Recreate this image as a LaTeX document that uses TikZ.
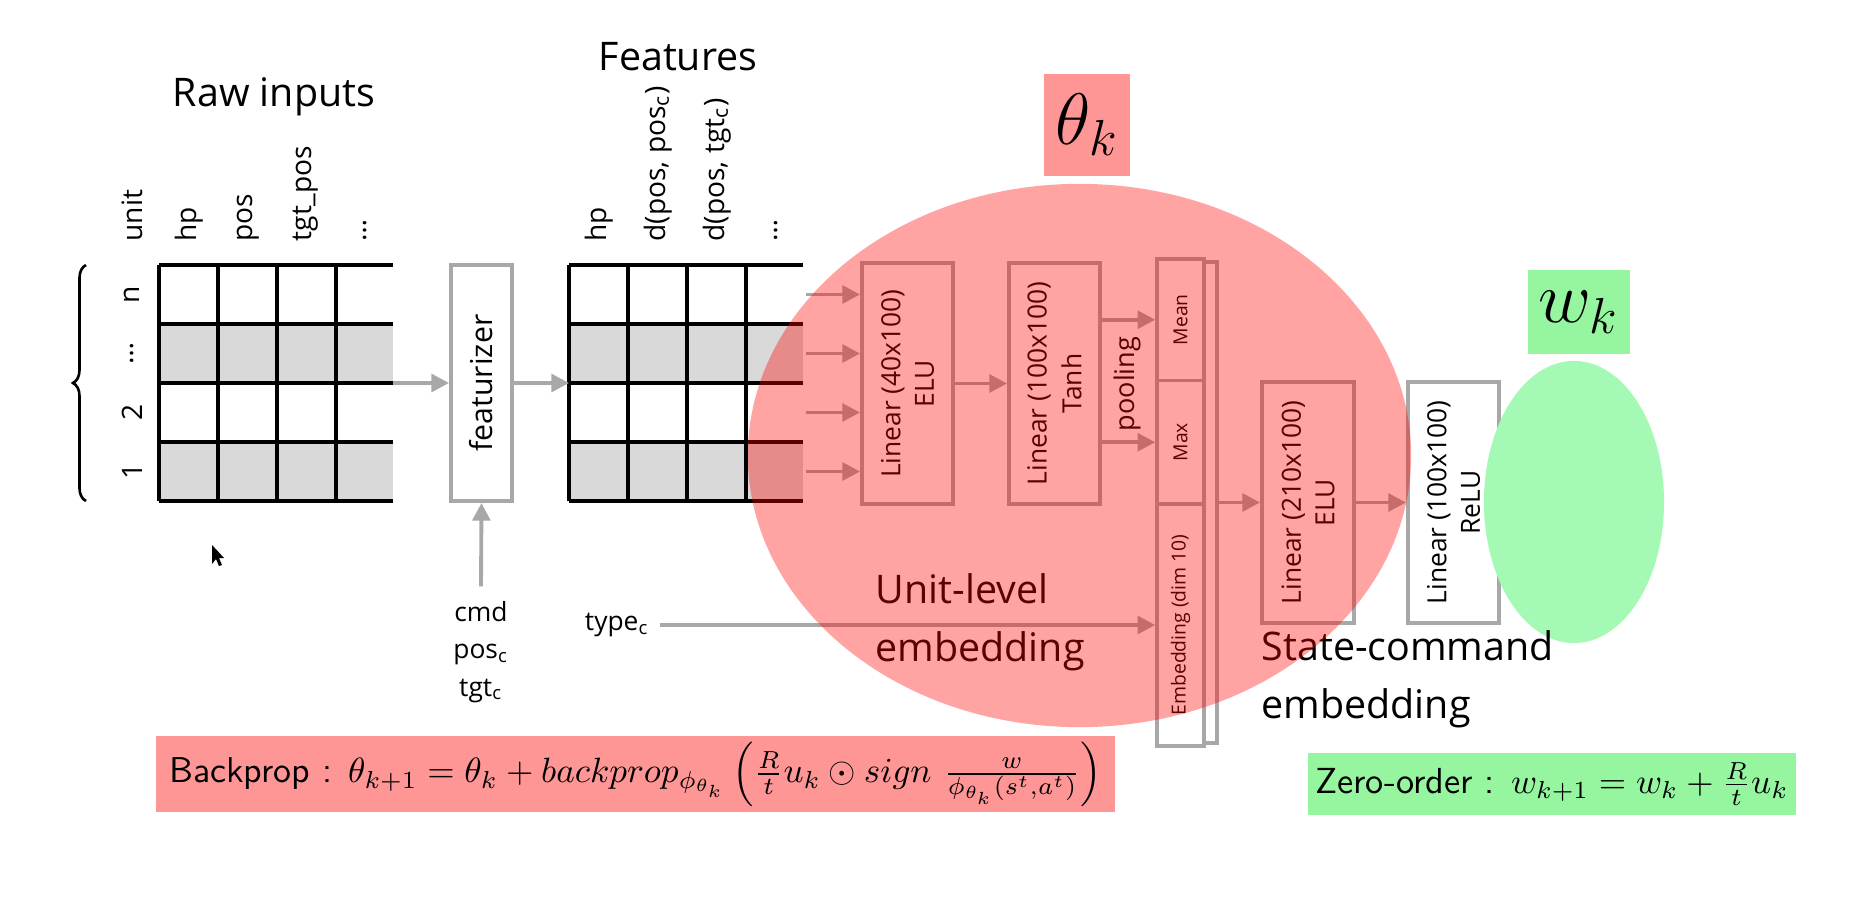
\documentclass[tikz,border=0pt]{standalone}
\usepackage{amsmath}
\usepackage{amssymb}
\usepackage{fontspec}
\newfontfamily\osans{Open Sans}
\usepackage{tikz}
\usetikzlibrary{positioning,calc}
\usetikzlibrary{arrows.meta,decorations.pathreplacing}
\definecolor{boxred}{RGB}{255,150,150}
\definecolor{boxgreen}{RGB}{150,246,160}
\definecolor{ellgreen}{RGB}{164,250,180}
\definecolor{linegrey}{RGB}{168,168,168}
\definecolor{cellgrey}{RGB}{217,217,217}
\tikzset{
	arr/.style={linegrey, line width=1.1pt, -{Triangle[length=5pt,width=5pt]}},
	gridline/.style={black, line width=1.05pt},
	collbl/.style={rotate=90, anchor=west, inner sep=0pt, font=\osans\fontsize{8}{9}\selectfont},
	rowlbl/.style={rotate=90, inner sep=0pt, font=\osans\fontsize{8}{9}\selectfont},
	layer/.style={draw=linegrey, line width=1.1pt, fill=white, inner sep=0pt, minimum width=0.91cm, minimum height=2.41cm, font=\osans\fontsize{7.5}{9}\selectfont},
	cellbox/.style={draw=linegrey, line width=1pt, fill=white, inner sep=0pt, minimum width=0.47cm, font=\osans\fontsize{5.5}{6.5}\selectfont},
	bigtxt/.style={inner sep=0pt, font=\osans\fontsize{11.2}{16.5}\selectfont},
	smalltxt/.style={inner sep=1pt, font=\osans\fontsize{7.5}{10.7}\selectfont}
}

\begin{document}
\begin{tikzpicture}[x=0.01cm,y=-0.01cm]
\fill[white] (0,0) rectangle (1850,900);
\useasboundingbox (0,0) rectangle (1850,900);

%Grilles (entrees brutes et features)
\foreach \gx in {159,569}{
	\fill[cellgrey] (\gx,324) rectangle (\gx+234,383);
	\fill[cellgrey] (\gx,442) rectangle (\gx+234,501);
	\foreach \r in {0,...,4} \draw[gridline] (\gx,265+59*\r) -- (\gx+234,265+59*\r);
	\foreach \c in {0,...,3} \draw[gridline] (\gx+59*\c,265) -- (\gx+59*\c,501);
}

%Etiquettes des colonnes
\foreach \xx/\txt in {132/unit,189/hp,248/pos,306/tgt\_pos,365/…}
	\node[collbl] at (\xx,242) {\txt};
\foreach \xx/\txt in {599/hp,658/{d(pos, pos\textsubscript{c})},717/{d(pos, tgt\textsubscript{c})},776/…}
	\node[collbl] at (\xx,242) {\txt};

%Etiquettes des lignes
\foreach \yy/\txt in {294.5/n,353.5/…,412.5/2,471.5/1}
	\node[rowlbl] at (132,\yy) {\txt};
\draw[decorate,decoration={brace,amplitude=0.13cm},line width=0.75pt] (86,501) -- (86,265);

\node[bigtxt] (rawtitle) at (274,97) {Raw inputs};
\node[bigtxt] (feattitle) at (678,57) {Features};

%Featurizer
\node[layer,minimum width=0.61cm,minimum height=2.36cm,font=\osans\fontsize{8.6}{10}\selectfont] (fz) at (481.5,383) {\rotatebox{90}{featurizer}};
\coordinate (rawout) at (393,383);
\coordinate (featin) at (569,383);
\draw[arr] (rawout) -- (fz.west);
\draw[arr] (fz.east) -- (featin);
\node[smalltxt,align=center] (cmd) at (481,652) {cmd\\pos\textsubscript{c}\\tgt\textsubscript{c}};
\draw[arr] ([yshift=3pt]cmd.north) -- (fz.south);
\node[smalltxt] (typec) at (617,625) {type\textsubscript{c}};

%Reseau
\node[layer] (lin1) at (907.5,383.5) {\rotatebox{90}{\shortstack{Linear (40x100)\\ELU}}};
\node[layer] (lin2) at (1054.5,383.5) {\rotatebox{90}{\shortstack{Linear (100x100)\\Tanh}}};
\node[cellbox,minimum width=0.51cm,minimum height=4.81cm] (colback) at (1191.5,502.5) {};
\node[cellbox,minimum height=1.215cm] (poolmean) at (1180.5,319.75) {\rotatebox{90}{Mean}};
\node[cellbox,minimum height=1.235cm] (poolmax) at (1180.5,442.25) {\rotatebox{90}{Max}};
\node[cellbox,minimum height=2.42cm] (emb) at (1180.5,625) {\rotatebox{90}{Embedding (dim 10)}};
\node[layer,minimum width=0.92cm] (lin3) at (1308,502.5) {\rotatebox{90}{\shortstack{Linear (210x100)\\ELU}}};
\node[layer] (relu) at (1453.5,502.5) {\rotatebox{90}{\shortstack{Linear (100x100)\\ReLU}}};
\node[rotate=90,inner sep=0pt,font=\osans\fontsize{7.7}{9}\selectfont] (pool) at (1127,384) {pooling};

\foreach \yy [count=\i] in {294.5,353.5,412.5,471.5}{
	\coordinate (fo\i) at (806,\yy);
	\draw[arr] (fo\i) -- (fo\i -| lin1.west);
}
\draw[arr] (lin1) -- (lin2);
\draw[arr] (lin2.east |- poolmean) -- (poolmean.west);
\draw[arr] (lin2.east |- poolmax) -- (poolmax.west);
\draw[arr] ([xshift=2pt]typec.east) -- (emb.west);
\draw[arr] (colback.east) -- (lin3.west);
\draw[arr] (lin3) -- (relu);

%Curseur
\fill (212,545) -- (212,564) -- (216,559) -- (219,566) -- (222,565) -- (219,558) -- (224,558) -- cycle;

%Ellipses et textes
\fill[ellgreen] (1574,502) ellipse [x radius=0.9cm, y radius=1.41cm];
\node[bigtxt,anchor=west,align=left] (unitemb) at (875,622) {Unit-level\\embedding};
\node[bigtxt,anchor=west,align=left] (stateemb) at (1261,679) {State-command\\embedding};
\fill[red,opacity=0.36] (1079.5,455.5) ellipse [x radius=3.315cm, y radius=2.715cm];

%Parametres et mises a jour
\node[fill=boxred,minimum width=0.86cm,minimum height=1.02cm,inner sep=0pt,font=\fontsize{20}{24}\selectfont] (theta) at (1087,125) {$\theta_k$};
\node[fill=boxgreen,minimum width=1.02cm,minimum height=0.83cm,inner sep=0pt,font=\fontsize{20}{24}\selectfont] (wk) at (1579,312) {$w_k$};
\node[fill=boxred,minimum width=9.59cm,minimum height=0.76cm,inner sep=1pt,font=\sffamily\fontsize{10.2}{12.2}\selectfont] (bp) at (635.5,774)
	{Backprop : $\theta_{k+1} = \theta_k + backprop_{\phi_{\theta_k}} \left( \frac{R}{t} u_k \odot sign\ \frac{w}{\phi_{\theta_k}(s^t,a^t)} \right)$};
\node[fill=boxgreen,minimum width=4.88cm,minimum height=0.62cm,inner sep=1pt,font=\sffamily\fontsize{10.3}{12.3}\selectfont] (zo) at (1552,784)
	{Zero-order : $w_{k+1} = w_k + \frac{R}{t}u_k$};
\end{tikzpicture}
\end{document}
